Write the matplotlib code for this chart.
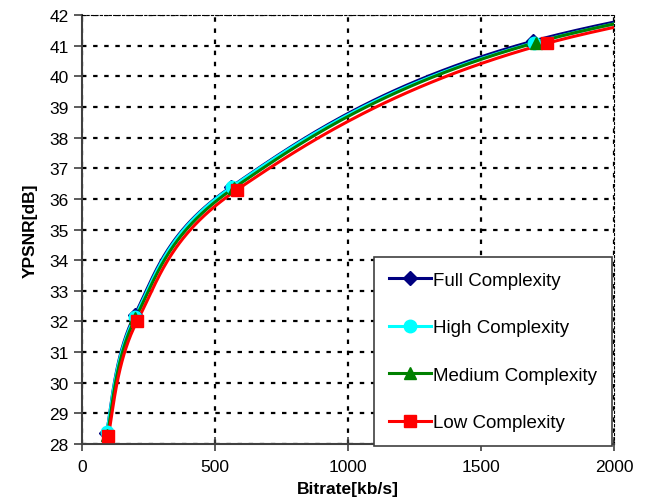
import numpy as np
import matplotlib
matplotlib.use("Agg")
import matplotlib.pyplot as plt
from matplotlib.lines import Line2D

plt.rcParams['font.family'] = ['Liberation Sans', 'DejaVu Sans']

# data (last point lies past the x limit, line runs out of the frame)
series_names = ['Full Complexity', 'High Complexity', 'Medium Complexity', 'Low Complexity']
bitrate_full = [92, 198, 562, 1695, 4000]
psnr_full = [28.35, 32.2, 36.4, 41.15, 44.6]
bitrate_high = [93, 199, 565, 1700, 4000]
psnr_high = [28.4, 32.15, 36.4, 41.1, 44.55]
bitrate_medium = [95, 201, 570, 1705, 4000]
psnr_medium = [28.3, 32.1, 36.35, 41.1, 44.6]
bitrate_low = [98, 207, 583, 1748, 4000]
psnr_low = [28.25, 32.0, 36.3, 41.08, 44.4]

colors = ['#000080', '#00FFFF', '#008000', '#FF0000']
markers = ['D', 'o', '^', 's']
msizes = [7, 9, 9, 9]

fig = plt.figure(figsize=(6.5, 5.02), dpi=100)
ax = fig.add_axes([0.126, 0.1135, 0.819, 0.8545])
ax.set_xlim(0, 2000)
ax.set_ylim(28, 42)


def smooth(ax, xs, ys, n=60):
    # excel-like smoothed line: cardinal spline in screen space
    pts = ax.transData.transform(np.column_stack([xs, ys]))
    pts = np.vstack([pts[0], pts, pts[-1]])
    out = []
    t = np.linspace(0, 1, n)[:, None]
    for i in range(1, len(pts) - 2):
        p0, p1, p2, p3 = pts[i - 1], pts[i], pts[i + 1], pts[i + 2]
        c1 = p1 + (p2 - p0) / 6.0
        c2 = p2 - (p3 - p1) / 6.0
        seg = ((1 - t) ** 3) * p1 + 3 * ((1 - t) ** 2) * t * c1 + 3 * (1 - t) * t ** 2 * c2 + t ** 3 * p2
        out.append(seg)
    out = np.vstack(out)
    return ax.transData.inverted().transform(out)


all_x = [bitrate_full, bitrate_high, bitrate_medium, bitrate_low]
all_y = [psnr_full, psnr_high, psnr_medium, psnr_low]

for xs, ys, c, m, ms in zip(all_x, all_y, colors, markers, msizes):
    curve = smooth(ax, xs, ys)
    ax.plot(curve[:, 0], curve[:, 1], color=c, lw=2.2, zorder=3)
    ax.plot(xs, ys, linestyle='none', marker=m, color=c, markersize=ms, zorder=4)

ax.set_xticks(np.arange(0, 2001, 500))
ax.set_yticks(np.arange(28, 43, 1))
ax.tick_params(axis='both', labelsize=12.5, direction='out', length=6, width=1.2, color='#404040')
ax.tick_params(axis='x', direction='inout', length=10, pad=6)
ax.grid(True, color='black', linestyle=(0, (2, 3)), linewidth=1.6)

for side in ['top', 'right']:
    ax.spines[side].set_linestyle((0, (2, 2)))
    ax.spines[side].set_linewidth(0.8)
for side in ['left', 'bottom']:
    ax.spines[side].set_linewidth(1.5)
    ax.spines[side].set_color('#404040')

ax.set_xlabel('Bitrate[kb/s]', fontsize=12.5, fontweight='bold', labelpad=5)
ax.set_ylabel('YPSNR[dB]', fontsize=12.5, fontweight='bold', labelpad=8)

handles = [Line2D([], [], color=c, marker=m, markersize=ms, lw=2.2)
           for c, m, ms in zip(colors, markers, msizes)]
leg = ax.legend(handles, series_names, loc='lower right', bbox_to_anchor=(0.995, -0.005),
                fontsize=13.5, handlelength=2.2, labelspacing=1.62, borderpad=0.8,
                handletextpad=0.1, fancybox=False, framealpha=1, edgecolor='#404040',
                borderaxespad=0.0)
leg.get_frame().set_linewidth(1.2)
leg.set_zorder(10)

fig.savefig('out.png', dpi=100)
